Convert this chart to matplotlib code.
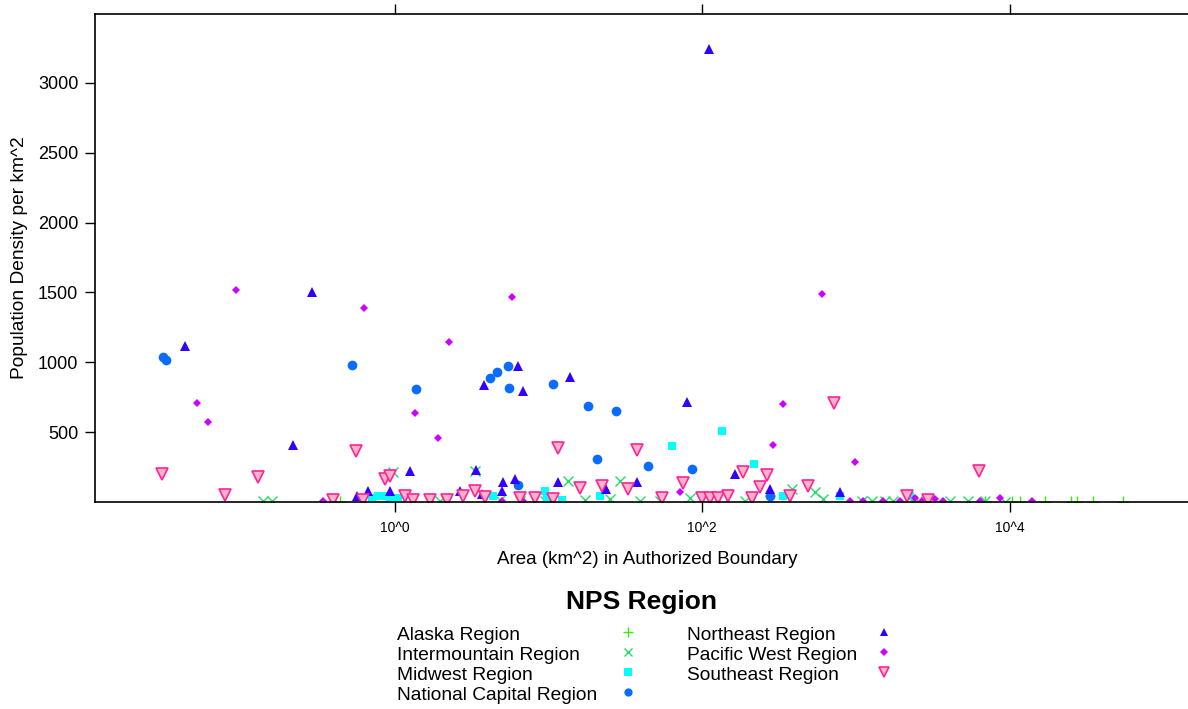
import numpy as np
import matplotlib
matplotlib.use("Agg")
import matplotlib.pyplot as plt

plt.rcParams["font.family"] = ["Liberation Sans", "DejaVu Sans"]

# Area (km^2) and population density (per km^2) of NPS units, by region
alaska_area = [0.44, 2500, 2660, 6930, 10400, 11700, 17000, 25200, 27500, 35000, 55000]
alaska_density = [3, 2, 1, 1, 2, 1, 0.5, 1, 0.5, 0.3, 0.2]

intermountain_area = [0.138, 0.158, 0.97, 3.32, 6.5, 9.5, 13.4, 17.3, 25.1, 29.2, 39.4,
                      53.2, 83.3, 190, 276, 384, 542, 611, 1100, 1270, 1550, 1745,
                      2320, 4100, 5370, 6930, 9360, 1.96, 4.83]
intermountain_density = [8, 6, 212, 219, 10, 5, 148, 15, 20, 148, 8,
                         10, 30, 10, 15, 90, 70, 20, 5, 5, 5, 8,
                         5, 5, 5, 5, 3, 5, 12]

midwest_area = [0.71, 0.77, 0.85, 0.93, 1.05, 4.35, 9.5, 9.8, 12.2, 21.6, 63.6,
                135, 217, 336, 789, 2250]
midwest_density = [30, 40, 45, 25, 30, 40, 76, 20, 15, 40, 398,
                   505, 270, 40, 40, 40]

natcap_area = [0.0309, 0.0323, 0.525, 1.37, 4.15, 4.61, 5.44, 5.52, 6.32, 10.7,
               18.1, 27.5, 20.7, 44.4, 85.8, 276]
natcap_density = [1039, 1017, 984, 812, 884, 927, 970, 819, 125, 848,
                  690, 648, 305, 255, 234, 40]

northeast_area = [111, 0.043, 0.288, 0.217, 3.80, 6.32, 6.81, 13.8, 79.6, 1.25,
                  3.37, 5.05, 6.04, 4.97, 11.5, 37.6, 23.6, 164, 276, 789,
                  0.667, 0.93, 0.566, 2.65, 3.68]
northeast_density = [3240, 1118, 1503, 405, 840, 976, 797, 898, 713, 219,
                     226, 140, 162, 76, 140, 140, 90, 198, 90, 70,
                     76, 76, 40, 76, 60]

pacific_area = [0.0923, 0.628, 2.25, 5.78, 603, 0.0514, 0.0607, 1.35, 1.91, 336,
                289, 988, 71.7, 0.340, 4.97, 6.81, 916, 1114, 1504, 1940,
                2430, 2700, 3280, 3700, 6440, 8690, 14000]
pacific_density = [1518, 1391, 1146, 1467, 1491, 712, 576, 634, 455, 698,
                   405, 285, 70, 10, 10, 10, 8, 8, 8, 8,
                   30, 5, 25, 5, 8, 30, 5]

southeast_area = [0.0304, 0.128, 0.0782, 0.557, 0.861, 0.93, 0.395, 0.619, 1.16, 1.31,
                  1.69, 2.18, 2.77, 3.32, 3.85, 6.51, 8.15, 11.5, 37.6, 721,
                  75, 184, 264, 238, 489, 32.9, 22.3, 16.0, 54.7, 99.7,
                  112, 127, 147, 211, 373, 2150, 2950, 6340, 10.7]
southeast_density = [198, 177, 47, 362, 162, 183, 15, 15, 40, 15,
                     15, 15, 40, 76, 35, 30, 30, 390, 369, 712,
                     134, 212, 191, 105, 112, 90, 112, 98, 30, 30,
                     30, 30, 45, 30, 45, 40, 15, 219, 25]

regions = ["Alaska Region", "Intermountain Region", "Midwest Region",
           "National Capital Region", "Northeast Region", "Pacific West Region",
           "Southeast Region"]

styles = {
    "Alaska Region": dict(marker="+", color="#33ee00", ms=9, mew=1.0, mfc="none"),
    "Intermountain Region": dict(marker="x", color="#22dd66", ms=6.5, mew=1.0, mfc="none"),
    "Midwest Region": dict(marker="s", color="#00ffff", ms=6, mew=0, mfc="#00ffff"),
    "National Capital Region": dict(marker="o", color="#0a6cff", ms=7, mew=0, mfc="#0a6cff"),
    "Northeast Region": dict(marker="^", color="#3300ff", ms=7, mew=0, mfc="#3300ff"),
    "Pacific West Region": dict(marker="D", color="#cc00ff", ms=4.3, mew=0, mfc="#cc00ff"),
    "Southeast Region": dict(marker="v", color="#ff2299", ms=8.5, mew=1.2, mfc="#ffb3c6"),
}

data = {
    "Alaska Region": (alaska_area, alaska_density),
    "Intermountain Region": (intermountain_area, intermountain_density),
    "Midwest Region": (midwest_area, midwest_density),
    "National Capital Region": (natcap_area, natcap_density),
    "Northeast Region": (northeast_area, northeast_density),
    "Pacific West Region": (pacific_area, pacific_density),
    "Southeast Region": (southeast_area, southeast_density),
}

W, H = 1188, 709
fig = plt.figure(figsize=(W / 100, H / 100), dpi=100)
ax = fig.add_axes([95 / W, (H - 502) / H, (1200 - 95) / W, (502 - 14) / H])

for name in regions:
    xs, ys = data[name]
    st = styles[name]
    ax.plot(xs, ys, linestyle="none", marker=st["marker"], color=st["color"],
            markersize=st["ms"], markeredgewidth=st["mew"],
            markerfacecolor=st["mfc"], markeredgecolor=st["color"])

ax.set_xscale("log")
ax.set_xlim(10 ** -1.953, 10 ** 5.24)
ax.set_ylim(0, 3493)

xticks = [1, 100, 10000]
ax.set_xticks(xticks)
ax.set_xticklabels(["10^0", "10^2", "10^4"], fontsize=10)
ax.xaxis.set_minor_locator(matplotlib.ticker.NullLocator())
ax.tick_params(axis="x", which="both", top=True, bottom=True, direction="out",
               length=7, width=1, pad=7)
ax.set_yticks([500, 1000, 1500, 2000, 2500, 3000])
ax.tick_params(axis="y", left=True, right=False, direction="out", length=7,
               width=1, labelsize=13, pad=5)
for sp in ax.spines.values():
    sp.set_linewidth(1.2)

ax.set_xlabel("Area (km^2) in Authorized Boundary", fontsize=13.5, labelpad=11)
ax.set_ylabel("Population Density per km^2", fontsize=13.8, labelpad=7)

# Legend drawn in figure pixel coordinates
lg = fig.add_axes([0, 0, 1, 1], facecolor="none")
lg.set_xlim(0, W)
lg.set_ylim(H, 0)
lg.axis("off")
lg.text(642, 602, "NPS Region", fontsize=19, fontweight="bold",
        ha="center", va="center")
rows_y = [635, 655, 675, 695]
for i, name in enumerate(regions):
    col = i // 4
    row = i % 4
    tx = 397 if col == 0 else 687
    mx = 628 if col == 0 else 884
    y = rows_y[row]
    lg.text(tx, y, name, fontsize=13.8, ha="left", va="center")
    st = styles[name]
    lg.plot([mx], [y - 3], linestyle="none", marker=st["marker"], color=st["color"],
            markersize=st["ms"] * 0.85, markeredgewidth=st["mew"],
            markerfacecolor=st["mfc"], markeredgecolor=st["color"])

fig.savefig("out.png", dpi=100)
